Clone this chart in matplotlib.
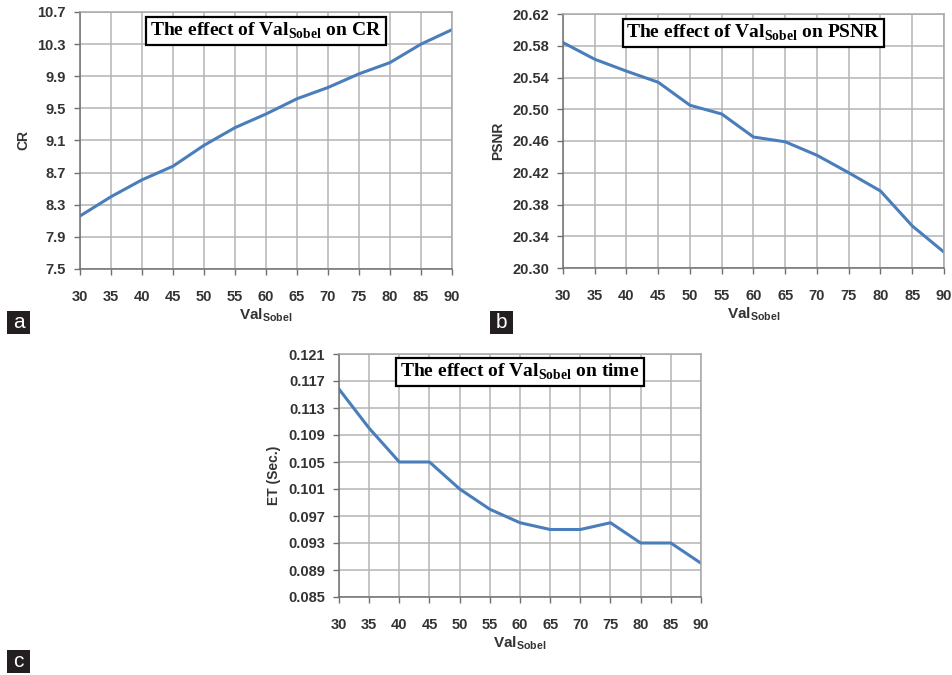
import matplotlib
matplotlib.use("Agg")
import matplotlib.pyplot as plt
from matplotlib.patches import Rectangle

plt.rcParams['font.family'] = ['Liberation Sans', 'DejaVu Sans']
plt.rcParams['mathtext.fontset'] = 'custom'
plt.rcParams['mathtext.bf'] = 'Liberation Serif:bold'
plt.rcParams['mathtext.sf'] = 'Liberation Sans:bold'

val_sobel = [30, 35, 40, 45, 50, 55, 60, 65, 70, 75, 80, 85, 90]
cr = [8.16, 8.40, 8.61, 8.78, 9.04, 9.26, 9.43, 9.62, 9.76, 9.93, 10.07, 10.30, 10.48]
psnr = [20.584, 20.563, 20.548, 20.534, 20.505, 20.494, 20.465, 20.459, 20.442,
        20.420, 20.397, 20.353, 20.320]
et = [0.1158, 0.110, 0.105, 0.105, 0.101, 0.098, 0.096, 0.095, 0.095, 0.096,
      0.093, 0.093, 0.090]

cr_ticks = [7.5, 7.9, 8.3, 8.7, 9.1, 9.5, 9.9, 10.3, 10.7]
psnr_ticks = [20.30, 20.34, 20.38, 20.42, 20.46, 20.50, 20.54, 20.58, 20.62]
et_ticks = [0.085, 0.089, 0.093, 0.097, 0.101, 0.105, 0.109, 0.113, 0.117, 0.121]

W, H = 953, 675
line_color = "#4a7ebb"
grid_color = "#b4b4b4"


def px_axes(fig, left, top, right, bottom):
    return fig.add_axes([left / W, 1 - bottom / H, (right - left) / W, (bottom - top) / H])


def style_panel(ax, y, yticks, yfmt, ylabel, what):
    ax.plot(val_sobel, y, color=line_color, lw=2.2, solid_joinstyle="round")
    ax.set_xlim(30, 90)
    ax.set_ylim(yticks[0], yticks[-1])
    ax.set_xticks(val_sobel)
    ax.set_yticks(yticks)
    ax.set_yticklabels([yfmt.format(t) for t in yticks])
    ax.grid(True, color=grid_color, lw=1.1)
    ax.set_axisbelow(True)
    for s in ax.spines.values():
        s.set_color("#a8a8a8")
        s.set_linewidth(1.1)
    ax.spines["left"].set_color("#707070")
    ax.spines["bottom"].set_color("#707070")
    ax.tick_params(direction="out", length=4, width=1, color="#707070",
                   labelsize=10.5, labelcolor="#333333")
    ax.tick_params(axis="x", pad=11)
    ax.tick_params(axis="y", pad=6)
    for lab in ax.get_xticklabels() + ax.get_yticklabels():
        lab.set_fontweight("bold")
    ax.set_xlabel(r"Val$_{\mathsf{Sobel}}$", fontsize=11, fontweight="bold",
                  color="#333333", labelpad=2)
    ax.set_ylabel(ylabel, fontsize=10, fontweight="bold", color="#333333",
                  labelpad=5)
    ax.text(0.5, 0.925, r"The effect of Val$_{\mathbf{Sobel}}$ on " + what,
            transform=ax.transAxes, ha="center", va="center",
            family="Liberation Serif", fontweight="bold", fontsize=14,
            bbox=dict(boxstyle="square,pad=0.2", fc="white", ec="black", lw=1.6))


def panel_label(fig, x0, y0, x1, y1, letter):
    fig.patches.append(Rectangle((x0 / W, 1 - y1 / H), (x1 - x0) / W, (y1 - y0) / H,
                                 transform=fig.transFigure, fc="#231f20", ec="none"))
    fig.text((x0 + x1) / 2 / W, 1 - (y0 + y1) / 2 / H, letter, color="white",
             ha="center", va="center", fontsize=15, family="Liberation Sans")


fig = plt.figure(figsize=(W / 100, H / 100), dpi=100)

ax_a = px_axes(fig, 80, 12, 452, 269)
style_panel(ax_a, cr, cr_ticks, "{:.1f}", "CR", "CR")

ax_b = px_axes(fig, 563, 14, 944, 268)
style_panel(ax_b, psnr, psnr_ticks, "{:.2f}", "PSNR", "PSNR")

ax_c = px_axes(fig, 339, 354, 701, 597)
style_panel(ax_c, et, et_ticks, "{:.3f}", "ET (Sec.)", "time")

panel_label(fig, 7, 311, 30, 334, "a")
panel_label(fig, 490, 311, 513, 334, "b")
panel_label(fig, 7, 650, 30, 673, "c")

fig.savefig("out.png", dpi=100)
